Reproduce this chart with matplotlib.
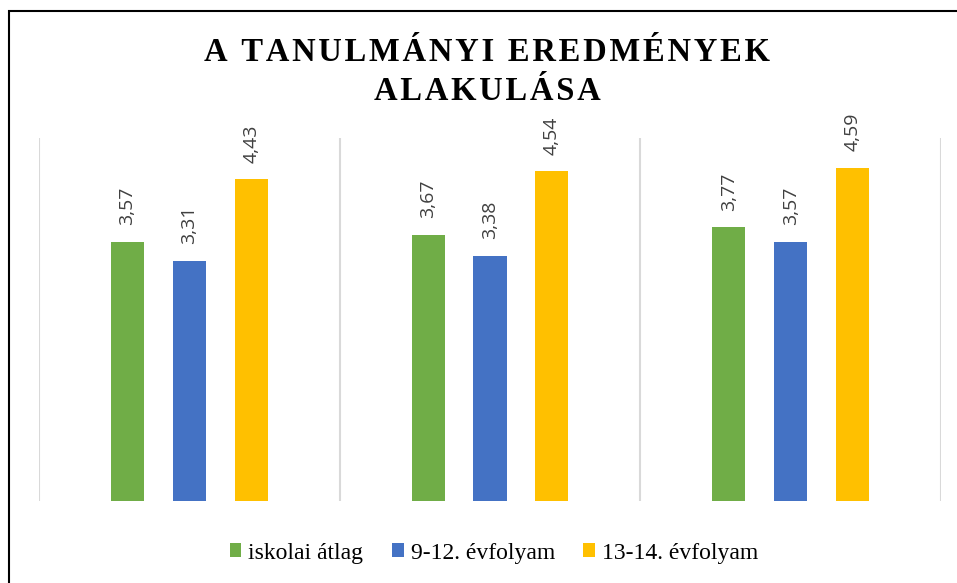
import matplotlib.pyplot as plt
import numpy as np

# data
groups = ["1", "2", "3"]
series = ["iskolai átlag", "9-12. évfolyam", "13-14. évfolyam"]
iskolai = [3.57, 3.67, 3.77]
evf_9_12 = [3.31, 3.38, 3.57]
evf_13_14 = [4.43, 4.54, 4.59]
colors = ["#70AD47", "#4472C4", "#FFC000"]

fig = plt.figure(figsize=(9.57, 5.83), dpi=100)
ax = fig.add_axes([39/957, 82/583, (941-39)/957, (501-138)/583])

x = np.arange(len(groups))
width = 0.11
step = 0.206
for i, vals in enumerate([iskolai, evf_9_12, evf_13_14]):
    bars = ax.bar(x + (i - 1) * step, vals, width, color=colors[i], label=series[i], zorder=3)
    for b, v in zip(bars, vals):
        ax.annotate(f"{v:.2f}".replace(".", ","), (b.get_x() + b.get_width()/2, v),
                    xytext=(0, 12), textcoords="offset points", rotation=90,
                    ha="center", va="bottom", fontsize=14, family="Open Sans", color="#404040")

# vertical gridlines between categories
for g in np.arange(-0.5, len(groups), 1):
    ax.axvline(g, color="#D9D9D9", linewidth=1.5, zorder=1)

ax.set_xlim(-0.5, len(groups) - 0.5)
ax.set_ylim(0, 5)
ax.set_xticks([])
ax.set_yticks([])
for s in ax.spines.values():
    s.set_visible(False)

# title with letter spacing
title = "A TANULMÁNYI EREDMÉNYEK\nALAKULÁSA"
spaced = "\n".join("\u200a".join(line) for line in title.split("\n"))
fig.text(487/957, 1 - 72/583, spaced, ha="center", va="center", fontsize=23.5,
         fontweight="bold", family="Liberation Serif", linespacing=1.32)

leg = fig.legend(loc="center", bbox_to_anchor=(494/957, 1 - 553/583), ncol=3, frameon=False,
                 prop={"family": "Liberation Serif", "size": 17},
                 handlelength=0.5, handleheight=0.5, handletextpad=0.3, columnspacing=1.2)

# outer frame
fig.add_artist(plt.Rectangle((9/957, -0.1), 1.2, 1 - 11/583 + 0.1, transform=fig.transFigure,
                             fill=False, edgecolor="black", linewidth=1.5))

plt.savefig("out.png", dpi=100)
